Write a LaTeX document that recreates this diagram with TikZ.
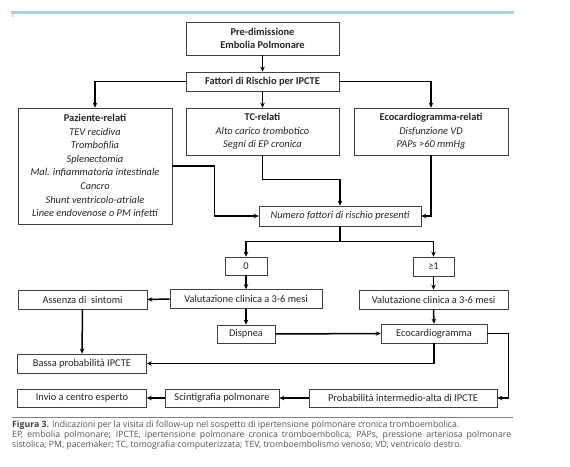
\documentclass[tikz,border=0pt]{standalone}
\usepackage{fontspec}
\setmainfont{Carlito}
\newfontfamily\capfont{Open Sans}
\usetikzlibrary{arrows.meta,positioning,calc}
\definecolor{topblue}{HTML}{A8D3E6}
\definecolor{boxline}{HTML}{404040}
\definecolor{boxtext}{HTML}{262626}
\definecolor{captext}{HTML}{555555}
\begin{document}
\begin{tikzpicture}[x=1pt,y=-1pt,
  bx/.style={draw=boxline,line width=0.7pt,fill=white,text=boxtext,align=center,inner sep=0pt,
    font=\fontsize{10.4}{13.6}\selectfont},
  conn/.style={line width=1.5pt,-{Stealth[length=5pt,width=4.5pt]}},
  plain/.style={line width=1.5pt}]
\fill[white] (0,0) rectangle (570,466);
\useasboundingbox (0,0) rectangle (570,466);
\draw[topblue,line width=3pt] (11,12) -- (514,12);
\node[text=gray,font=\fontsize{4}{4}\selectfont] (pg) at (13,16) {5};

\node[bx,minimum width=153pt,minimum height=33pt] (pre) at (262.5,38.5) {\textbf{Pre-dimissione}\\\textbf{Embolia Polmonare}};
\node[bx,minimum width=153pt,minimum height=19pt] (fat) at (262.5,81.5) {\textbf{Fattori di Rischio per IPCTE}};
\node[bx,minimum width=154pt,minimum height=116pt] (paz) at (95,166) {\textbf{Paziente-relati}\\\textit{TEV recidiva}\\\textit{Trombofilia}\\\textit{Splenectomia}\\\textit{Mal. infiammatoria intestinale}\\\textit{Cancro}\\\textit{Shunt ventricolo-atriale}\\\textit{Linee endovenose o PM infetti}};
\node[bx,minimum width=153pt,minimum height=47pt] (tc) at (262.5,131.5) {\textbf{TC-relati}\\\textit{Alto carico trombotico}\\\textit{Segni di EP cronica}};
\node[bx,minimum width=154pt,minimum height=47pt] (eco) at (431,131.5) {\textbf{Ecocardiogramma-relati}\\\textit{Disfunzione VD}\\\textit{PAPs >60 mmHg}};
\node[bx,minimum width=162pt,minimum height=20pt] (num) at (340,216) {\textit{Numero fattori di rischio presenti}};
\node[bx,minimum width=42pt,minimum height=18pt] (z) at (246,266) {0};
\node[bx,minimum width=41pt,minimum height=19pt] (g1) at (433.5,266.5) {≥1};
\node[bx,minimum width=152pt,minimum height=19pt] (v1) at (246,299) {Valutazione clinica a 3-6 mesi};
\node[bx,minimum width=149pt,minimum height=19pt] (v2) at (433.5,299.5) {Valutazione clinica a 3-6 mesi};
\node[bx,minimum width=129pt,minimum height=19pt] (ass) at (82.5,299.5) {Assenza di\ \ sintomi};
\node[bx,minimum width=58pt,minimum height=18pt] (dis) at (246,334) {Dispnea};
\node[bx,minimum width=106pt,minimum height=19pt] (e2) at (434,333.5) {Ecocardiogramma};
\node[bx,minimum width=129pt,minimum height=19pt] (bas) at (82,363.5) {Bassa probabilità IPCTE};
\node[bx,minimum width=129pt,minimum height=18pt] (inv) at (82,398) {Invio a centro esperto};
\node[bx,minimum width=114pt,minimum height=18pt] (sci) at (222,398) {Scintigrafia polmonare};
\node[bx,minimum width=188pt,minimum height=18pt] (prob) at (403,398) {Probabilità intermedio-alta di IPCTE};

\draw[conn] (pre.south) -- (fat.north);
\draw[conn] (fat.west) -| (paz.north);
\draw[conn] (fat.east) -| (eco.north);
\draw[conn] (fat.south) -- (tc.north);
\draw[conn] (paz.east) -- ++(42,0) |- (num.west);
\draw[conn] (tc.south) -- ++(0,24) -| (num.north);
\draw[conn] (eco.south) |- (num.east);
\draw[plain] (num.south) -- ++(0,15) coordinate (sp);
\draw[conn] (sp) -| (z.north);
\draw[conn] (sp) -| (g1.north);
\draw[conn] (z.south) -- (v1.north);
\draw[conn] (g1.south) -- (v2.north);
\draw[conn] (v1.west) -- (ass.east);
\draw[conn] (v1.south) -- (dis.north);
\draw[conn] (dis.east) -- (e2.west);
\draw[conn] (v2.south) -- (e2.north);
\draw[conn] (ass.south) -- (bas.north);
\draw[conn] (e2.south) |- (bas.east);
\draw[conn] (e2.east) -- ++(21,0) |- (prob.east);
\draw[conn] (prob.west) -- (sci.east);
\draw[conn] (sci.west) -- (inv.east);

\draw[gray,line width=0.5pt] (12,417) -- (513,417);
\node[anchor=north west,inner sep=0pt,text width=499pt,align=justify,text=captext,
  font=\capfont\fontsize{8.7}{10}\selectfont] (cap) at (12,421)
 {\textbf{\color{boxline}Figura 3.} Indicazioni per la visita di follow-up nel sospetto di ipertensione polmonare cronica tromboembolica.\\
 EP, embolia polmonare; IPCTE, ipertensione polmonare cronica tromboembolica; PAPs, pressione arteriosa polmonare\linebreak
 sistolica; PM, pacemaker; TC, tomografia computerizzata; TEV, tromboembolismo venoso; VD, ventricolo destro.};
\end{tikzpicture}
\end{document}
